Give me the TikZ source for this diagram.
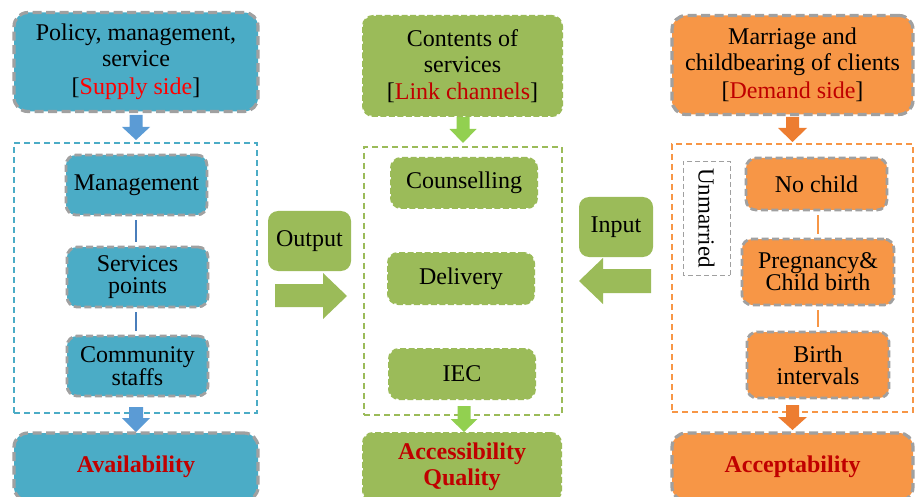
\documentclass[tikz,border=0pt]{standalone}
\usepackage{fontspec}
\setmainfont{Liberation Serif}
\definecolor{cblue}{HTML}{4BACC6}
\definecolor{cgreen}{HTML}{9BBB59}
\definecolor{corange}{HTML}{F79646}
\definecolor{cgray}{HTML}{A0A0A0}
\definecolor{cred}{HTML}{C00000}
\definecolor{bred}{HTML}{FF0000}
\definecolor{abl}{HTML}{5B9BD5}
\definecolor{agr}{HTML}{92D050}
\definecolor{aor}{HTML}{ED7D31}
\definecolor{lbl}{HTML}{4A7EBB}
\newcommand\blockdown[7]{\fill[#1] (#2-#3,#5) -- (#2+#3,#5) -- (#2+#3,#6) -- (#2+#4,#6) -- (#2,#7) -- (#2-#4,#6) -- (#2-#3,#6) -- cycle;}
\begin{document}
\begin{tikzpicture}[x=1pt,y=-1pt,
  sz/.style 2 args={minimum width=#1pt, minimum height=#2pt},
  bigbox/.style={rectangle, rounded corners=14pt, draw=cgray, line width=3.2pt, dash pattern=on 9pt off 4.5pt, align=center, inner sep=0pt, font=\fontsize{24}{26}\selectfont},
  smallbox/.style={rectangle, rounded corners=10pt, draw=cgray, line width=2.8pt, dash pattern=on 7pt off 3.5pt, align=center, inner sep=0pt, font=\fontsize{24}{22}\selectfont},
  greenbox/.style={rectangle, rounded corners=10pt, fill=cgreen, draw=cgreen, line width=2pt, dash pattern=on 6pt off 2.5pt, align=center, inner sep=0pt, font=\fontsize{24}{22}\selectfont},
  groupbox/.style={rectangle, line width=1.2pt, dash pattern=on 6pt off 4pt, inner sep=0pt},
  plainbox/.style={rectangle, rounded corners=10pt, align=center, inner sep=0pt, font=\fontsize{24}{22}\selectfont},
  link/.style={line width=1.3pt, shorten <=4pt, shorten >=4pt},
  result/.style={font=\fontsize{24}{26}\selectfont\bfseries, text=cred}
]
\useasboundingbox (0,0) rectangle (918,497);

% ---------- Left column (supply side) ----------
\node[bigbox, fill=cblue, sz={244}{99}] (ltop) at (136,62)
  {Policy, management,\\service\\[2pt]{[}\textcolor{bred}{Supply side}{]}};
\blockdown{abl}{136}{6.5}{14}{115}{127}{140}
\node[groupbox, draw=cblue, sz={243}{270}] (lgrp) at (135.5,278) {};
\node[smallbox, fill=cblue, sz={141}{60}] (mgmt) at (136.5,185) {Management};
\node[smallbox, fill=cblue, sz={141}{60}] (serv) at (137.5,277) {Services\\points};
\node[smallbox, fill=cblue, sz={141}{60}] (comm) at (137.5,366) {Community\\staffs};
\draw[link, lbl] (mgmt.south -| 136,0) -- (serv.north -| 136,0);
\draw[link, lbl] (serv.south -| 136,0) -- (comm.north -| 136,0);
\blockdown{abl}{136}{7}{14}{407}{418}{432}
\node[bigbox, fill=cblue, sz={244}{68}, result] (avail) at (136,467) {Availability};

% ---------- Middle column (link channels) ----------
\node[greenbox, sz={199}{100}, font=\fontsize{24}{26}\selectfont] (mtop) at (462.5,66)
  {Contents of\\services\\[1pt]{[}\textcolor{cred}{Link channels}{]}};
\blockdown{agr}{463}{6.5}{13.5}{117}{129}{143}
\node[groupbox, draw=cgreen, sz={198}{268}] (mgrp) at (463,281) {};
\node[greenbox, sz={146}{50}] (couns) at (464,183) {Counselling};
\node[greenbox, sz={146}{51}] (deliv) at (461,278.5) {Delivery};
\node[greenbox, sz={146}{50}] (iec) at (462,374) {IEC};
\blockdown{agr}{464}{6.5}{13.5}{406}{419}{432}
\node[greenbox, sz={198}{68}, result] (access) at (462,467) {Accessibility\\Quality};

% Output / Input
\node[plainbox, fill=cgreen, sz={83}{60}] (outp) at (309.5,241) {Output};
\fill[cgreen] (275,284) -- (323,284) -- (323,273) -- (347,296) -- (323,319) -- (323,307) -- (275,307) -- cycle;
\node[plainbox, fill=cgreen, sz={74}{60}] (inp) at (616,227) {Input};
\fill[cgreen] (651,269) -- (603,269) -- (603,258) -- (579,281) -- (603,304) -- (603,293) -- (651,293) -- cycle;

% ---------- Right column (demand side) ----------
\node[bigbox, fill=corange, sz={241}{99}] (rtop) at (792.5,65)
  {Marriage and\\childbearing of clients\\[2pt]{[}\textcolor{cred}{Demand side}{]}};
\blockdown{aor}{792.5}{6.5}{14.5}{117}{128}{142}
\node[groupbox, draw=corange, sz={241}{268}] (rgrp) at (792.5,278) {};
\node[rectangle, draw=cgray, fill=white, line width=0.9pt, dash pattern=on 5pt off 3pt, rotate=-90, sz={114}{47}, inner sep=0pt, font=\fontsize{23}{24}\selectfont] (unm) at (706.5,218) {Unmarried};
\node[smallbox, fill=corange, sz={141}{52}] (nochild) at (816.5,184) {No child};
\node[smallbox, fill=corange, sz={152}{66}] (preg) at (818,272) {Pregnancy\&\\Child birth};
\node[smallbox, fill=corange, sz={142}{66}] (birth) at (818,365) {Birth\\intervals};
\draw[link, corange] (nochild.south -| 818,0) -- (preg.north -| 818,0);
\draw[link, corange] (preg.south -| 818,0) -- (birth.north -| 818,0);
\blockdown{aor}{792.5}{6.5}{14.5}{405}{417}{430}
\node[bigbox, fill=corange, sz={241}{68}, result] (accept) at (792.5,467) {Acceptability};
\end{tikzpicture}
\end{document}
